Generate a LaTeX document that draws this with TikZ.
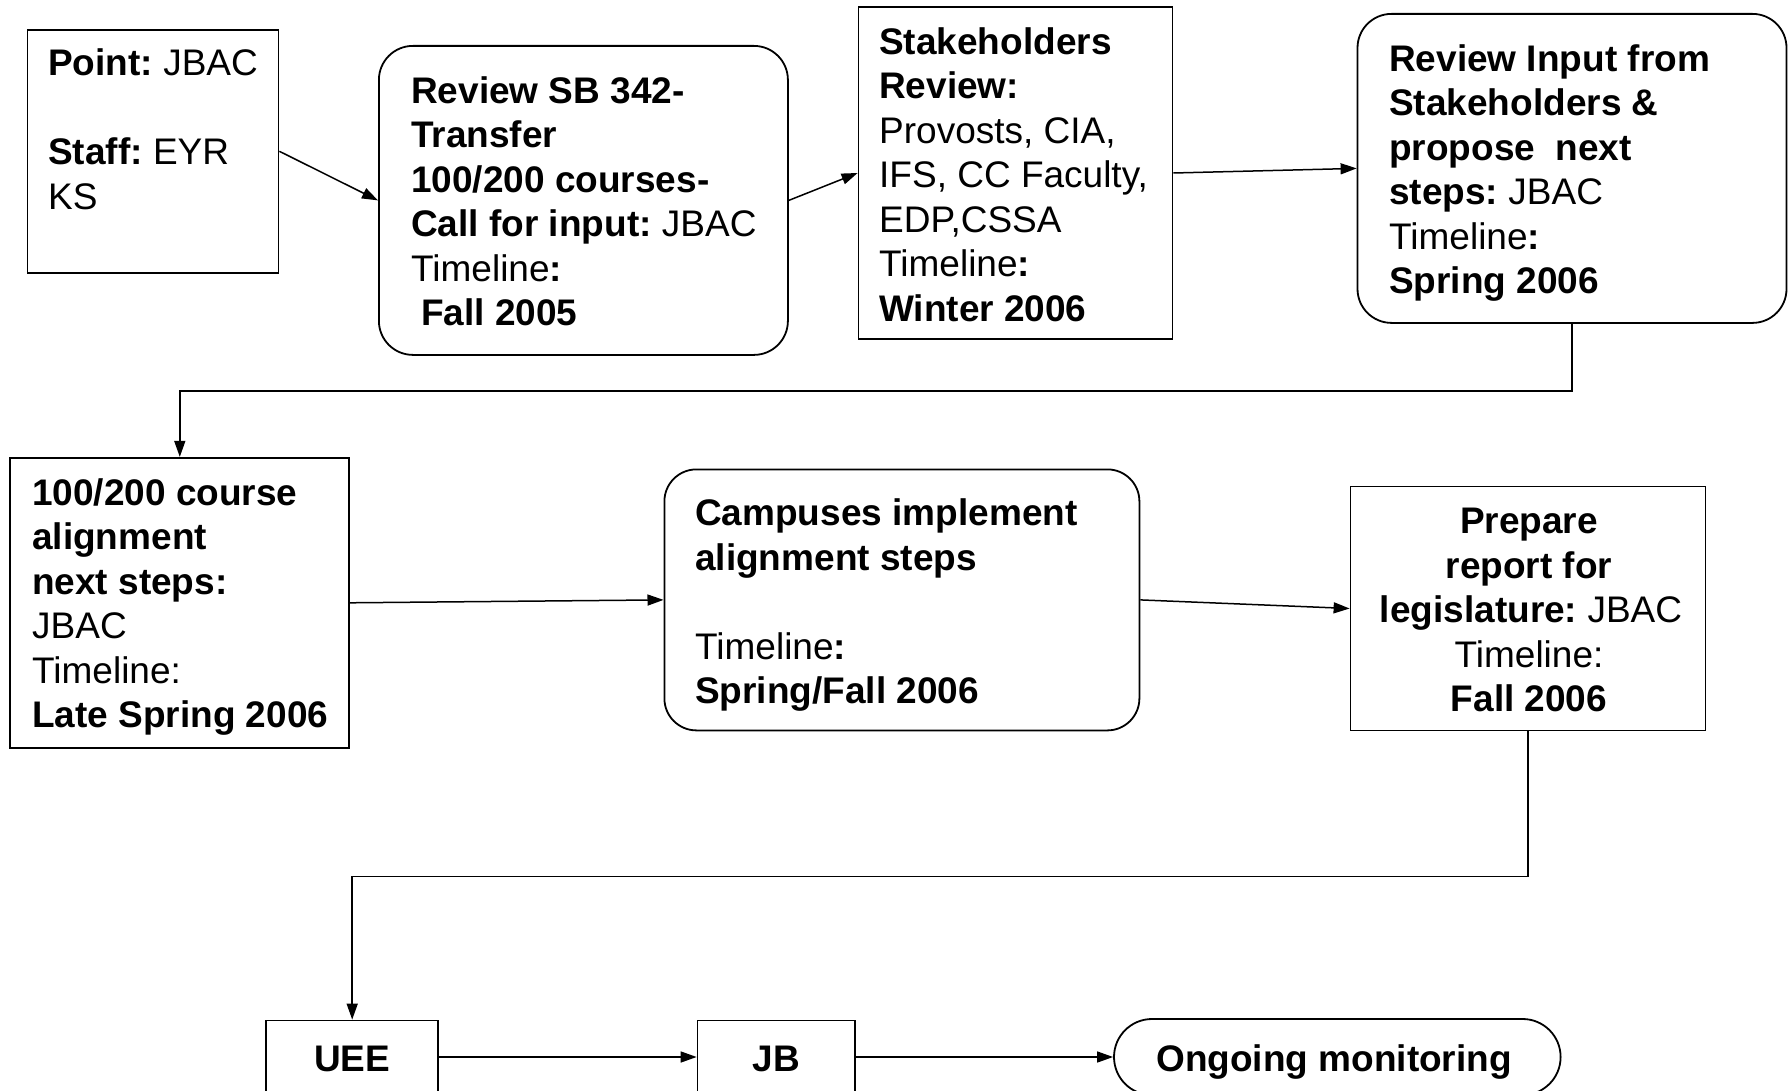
\documentclass[tikz,border=0pt]{standalone}
\usepackage{fontspec}
\setmainfont{Liberation Sans}
\usetikzlibrary{arrows.meta}
\frenchspacing
\begin{document}
\begin{tikzpicture}[x=1pt,y=-1pt,
  every node/.style={font=\fontsize{37}{44.5}\selectfont\frenchspacing},
  sq/.style={draw, line width=1.8pt, inner sep=0pt},
  rd/.style={draw, line width=1.8pt, inner sep=0pt, rounded corners=34pt},
  txt/.style={inner sep=0pt, anchor=base west, align=left},
  ctxt/.style={inner sep=0pt, anchor=base, align=center},
  conn/.style={line width=1.5pt, -{Triangle[length=16pt,width=11pt]}}]
\clip (0,0) rectangle (1790,1091);
\fill[white] (0,0) rectangle (1790,1091);
% boxes
\node[sq, minimum width=251pt, minimum height=243pt] (A) at (153,151.3) {};
\node[rd, minimum width=409pt, minimum height=309pt] (B) at (583.4,200.4) {};
\node[sq, minimum width=314pt, minimum height=332pt] (C) at (1015.5,173) {};
\node[rd, minimum width=429pt, minimum height=309pt] (D) at (1572,168.4) {};
\node[sq, minimum width=339pt, minimum height=290pt] (E) at (179.8,602.8) {};
\node[rd, rounded corners=32pt, minimum width=475pt, minimum height=261pt] (F) at (901.9,599.9) {};
\node[sq, minimum width=355pt, minimum height=244pt] (G) at (1528,608.5) {};
\node[sq, minimum width=172pt, minimum height=73pt] (H) at (352.2,1057) {};
\node[sq, minimum width=157.5pt, minimum height=73pt] (I) at (776.3,1057) {};
\node[draw, line width=1.8pt, inner sep=0pt, rounded corners=38pt, minimum width=446.6pt, minimum height=76pt] (J) at (1337.3,1057) {};
% texts (anchored at the baseline of the last line)
\node[txt] (At) at (48,209.4) {\textbf{Point:} JBAC\\[44.5pt]\textbf{Staff:} EYR\\KS};
\node[txt] (Bt) at (411,325.8) {\textbf{Review SB 342-}\\\textbf{Transfer}\\\textbf{100/200 courses-}\\\textbf{Call for input:} JBAC\\Timeline\textbf{:}\\\hspace*{10pt}\textbf{Fall 2005}};
\node[txt] (Ct) at (879,321.2) {\textbf{Stakeholders}\\\textbf{Review:}\\Provosts, CIA,\\IFS, CC Faculty,\\EDP,CSSA\\Timeline\textbf{:}\\\textbf{Winter 2006}};
\node[txt] (Dt) at (1389,293.8) {\textbf{Review Input from}\\\textbf{Stakeholders \&}\\\textbf{propose\ \ next}\\\textbf{steps:} JBAC\\Timeline\textbf{:}\\\textbf{Spring 2006}};
\node[txt] (Et) at (32,727.6) {\textbf{100/200 course}\\\textbf{alignment}\\\textbf{next steps:}\\JBAC\\Timeline:\\\textbf{Late Spring 2006}};
\node[txt] (Ft) at (695,703.7) {\textbf{Campuses implement}\\\textbf{alignment steps}\\[44.5pt]Timeline\textbf{:}\\\textbf{Spring/Fall 2006}};
\node[ctxt] (Gt) at (1529,711.7) {\textbf{Prepare}\\\textbf{report for}\\\hspace*{4pt}\textbf{legislature:} JBAC\\Timeline:\\\textbf{Fall 2006}};
\node[ctxt] (Ht) at (352.2,1071) {\textbf{UEE}};
\node[ctxt] (It) at (776.3,1071) {\textbf{JB}};
\node[ctxt] (Jt) at (1334,1071) {\textbf{Ongoing monitoring}};
% connectors
\draw[conn] (A.east) -- (B.west);
\draw[conn] (B.east) -- (C.west);
\draw[conn] (C.east) -- (D.west);
\draw[conn] (D.south) -- ++(0,67.4) -| (E.north);
\draw[conn] (E.east) -- (F.west);
\draw[conn] (F.east) -- (G.west);
\draw[conn] (G.south) -- ++(0,145) -| (H.north);
\draw[conn] (H.east) -- (I.west);
\draw[conn] (I.east) -- (J.west);
\end{tikzpicture}
\end{document}
